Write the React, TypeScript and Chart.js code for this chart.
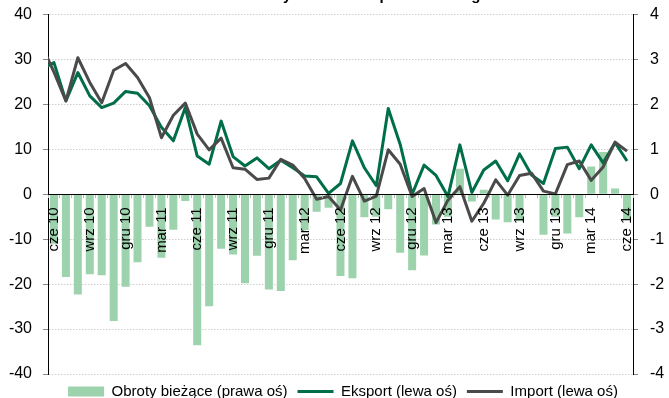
import React, { useEffect, useRef } from 'react';
import { Chart, registerables } from 'chart.js';

Chart.register(...registerables);

const FAMILY = '"Liberation Sans", Arial, Helvetica, sans-serif';

const categories = [
  'maj 10', 'cze 10', 'lip 10', 'sie 10', 'wrz 10', 'paź 10', 'lis 10', 'gru 10',
  'sty 11', 'lut 11', 'mar 11', 'kwi 11', 'maj 11', 'cze 11', 'lip 11', 'sie 11', 'wrz 11', 'paź 11', 'lis 11', 'gru 11',
  'sty 12', 'lut 12', 'mar 12', 'kwi 12', 'maj 12', 'cze 12', 'lip 12', 'sie 12', 'wrz 12', 'paź 12', 'lis 12', 'gru 12',
  'sty 13', 'lut 13', 'mar 13', 'kwi 13', 'maj 13', 'cze 13', 'lip 13', 'sie 13', 'wrz 13', 'paź 13', 'lis 13', 'gru 13',
  'sty 14', 'lut 14', 'mar 14', 'kwi 14', 'maj 14', 'cze 14',
];

const firstShown = 'cze 10';
const labelledMonths = ['cze', 'wrz', 'gru', 'mar'];

const currentAccount = [
  null, -1.1, -1.84, -2.23, -1.78, -1.8, -2.82, -2.06,
  -1.51, -0.72, -1.41, -0.79, -0.15, -3.36, -2.49, -1.21, -1.34, -1.98, -1.37, -2.12,
  -2.15, -1.47, -0.8, -0.39, -0.3, -1.82, -1.87, -0.51, -0.5, -0.33, -1.3, -1.69,
  -1.36, -0.67, -0.5, 0.57, -0.16, 0.1, -0.56, -0.62, -0.6, 0, -0.9, -0.5,
  -0.87, -0.51, 0.62, 0.94, 0.13, -0.55,
];

const exportDyn = [
  27.9, 29.3, 20.8, 27.1, 21.9, 19.3, 20.3, 22.9,
  22.5, 19.7, 14.9, 11.9, 19.3, 8.5, 6.7, 16.3, 8.4, 6.3, 8.1, 5.7,
  7.6, 5.9, 4.1, 3.9, 0.2, 2.4, 11.9, 5.9, 1.9, 19.1, 11.1, 0,
  6.5, 4.2, -0.5, 11.0, 0.4, 5.4, 7.4, 3.0, 9.0, 4.3, 2.4, 10.2,
  10.5, 5.7, 11.0, 7.0, 11.5, 7.4,
];

const importDyn = [
  33, 27.2, 20.8, 30.4, 24.9, 20.4, 27.6, 29.1,
  26.0, 21.5, 12.6, 17.6, 20.3, 13.4, 9.9, 12.5, 5.9, 5.6, 3.3, 3.6,
  7.8, 6.5, 3.5, -1.1, -0.5, -3.5, 4.0, -1.5, -0.4, 9.9, 6.7, -0.5,
  1.3, -6.3, -1.3, 1.7, -6.0, -2.0, 3.2, -0.2, 4.2, 4.7, 0.7, 0.1,
  6.6, 7.4, 3.1, 6.1, 11.6, 9.6,
];

const seriesNames = ['Obroty bieżące (prawa oś)', 'Eksport (lewa oś)', 'Import (lewa oś)'];
const TITLE = 'Wyniki handlu: płatności – ogółem';

export default function App() {
  const ref = useRef<HTMLCanvasElement>(null);

  useEffect(() => {
    if (!ref.current) return;
    Chart.defaults.font.family = FAMILY;

    const titlePlugin = {
      id: 'cutTitle',
      afterDraw(chart: any) {
        const ctx = chart.ctx;
        ctx.save();
        ctx.font = `bold 15px ${FAMILY}`;
        ctx.fillStyle = '#000';
        ctx.textAlign = 'left';
        ctx.textBaseline = 'alphabetic';
        ctx.fillText(TITLE, 269, 6.5);
        ctx.restore();
      },
    };

    const chart = new Chart(ref.current, {
      type: 'bar',
      data: {
        labels: categories,
        datasets: [
          {
            type: 'bar',
            label: seriesNames[0],
            data: currentAccount,
            yAxisID: 'y1',
            backgroundColor: '#9cd2ac',
            borderWidth: 0,
            categoryPercentage: 1,
            barPercentage: 0.67,
            order: 3,
            pointStyle: 'rect',
          } as any,
          {
            type: 'line',
            label: seriesNames[1],
            data: exportDyn,
            yAxisID: 'y',
            borderColor: '#006e46',
            backgroundColor: '#006e46',
            borderWidth: 3,
            pointRadius: 0,
            tension: 0,
            clip: 0,
            order: 2,
            pointStyle: 'line',
            borderJoinStyle: 'round',
          } as any,
          {
            type: 'line',
            label: seriesNames[2],
            data: importDyn,
            yAxisID: 'y',
            borderColor: '#4a4a4a',
            backgroundColor: '#4a4a4a',
            borderWidth: 3,
            pointRadius: 0,
            tension: 0,
            clip: 0,
            order: 1,
            pointStyle: 'line',
            borderJoinStyle: 'round',
          } as any,
        ],
      },
      options: {
        animation: false,
        responsive: true,
        maintainAspectRatio: false,
        layout: { padding: { left: 0, right: -17, top: 15, bottom: 0 } },
        plugins: {
          title: { display: false },
          tooltip: { enabled: false },
          legend: {
            position: 'bottom',
            labels: {
              usePointStyle: true,
              pointStyleWidth: 36,
              boxHeight: 10,
              padding: 10,
              color: '#000',
              font: { size: 15, family: FAMILY },
              sort: (a: any, b: any) => a.datasetIndex - b.datasetIndex,
            },
          },
        },
        scales: {
          x: {
            type: 'category',
            min: firstShown,
            position: { y: 0 } as any,
            offset: true,
            grid: {
              display: true,
              drawOnChartArea: false,
              drawTicks: true,
              tickLength: 3,
              tickColor: '#b8b8b8',
              offset: true,
              z: 1,
            },
            border: { display: true, color: '#000', width: 1, z: 1 },
            ticks: {
              autoSkip: false,
              maxRotation: 90,
              minRotation: 90,
              padding: 10,
              color: '#000',
              z: 1,
              font: { size: 15, family: FAMILY },
              callback: function (this: any, value: any) {
                const l = this.getLabelForValue(value) as string;
                return labelledMonths.includes(l.split(' ')[0]) ? l : '';
              },
            },
          } as any,
          y: {
            position: 'left',
            min: -40,
            max: 40,
            ticks: { stepSize: 10, padding: 11, color: '#000', font: { size: 16, family: FAMILY } },
            grid: { color: '#cfcfcf', tickColor: '#8a8a8a', tickLength: 5, lineWidth: 1 },
            border: { display: true, color: '#000', width: 1, dash: [1.5, 1.5] },
            afterFit: (s: any) => { s.width = 48; },
          } as any,
          y1: {
            position: 'right',
            min: -4,
            max: 4,
            ticks: { stepSize: 1, padding: 12, color: '#000', font: { size: 16, family: FAMILY } },
            grid: { drawOnChartArea: false, tickColor: '#8a8a8a', tickLength: 5 },
            border: { display: true, color: '#000', width: 1 },
            afterFit: (s: any) => { s.width = 53; },
          } as any,
        },
      },
      plugins: [titlePlugin],
    });
    return () => chart.destroy();
  }, []);

  return (
    <div style={{ position: 'fixed', left: 0, top: 0, width: 669, height: 398, overflow: 'hidden', background: '#fff' }}>
      <div style={{ position: 'absolute', left: 0, top: -7, width: 669, height: 416 }}>
        <canvas ref={ref} />
      </div>
    </div>
  );
}
